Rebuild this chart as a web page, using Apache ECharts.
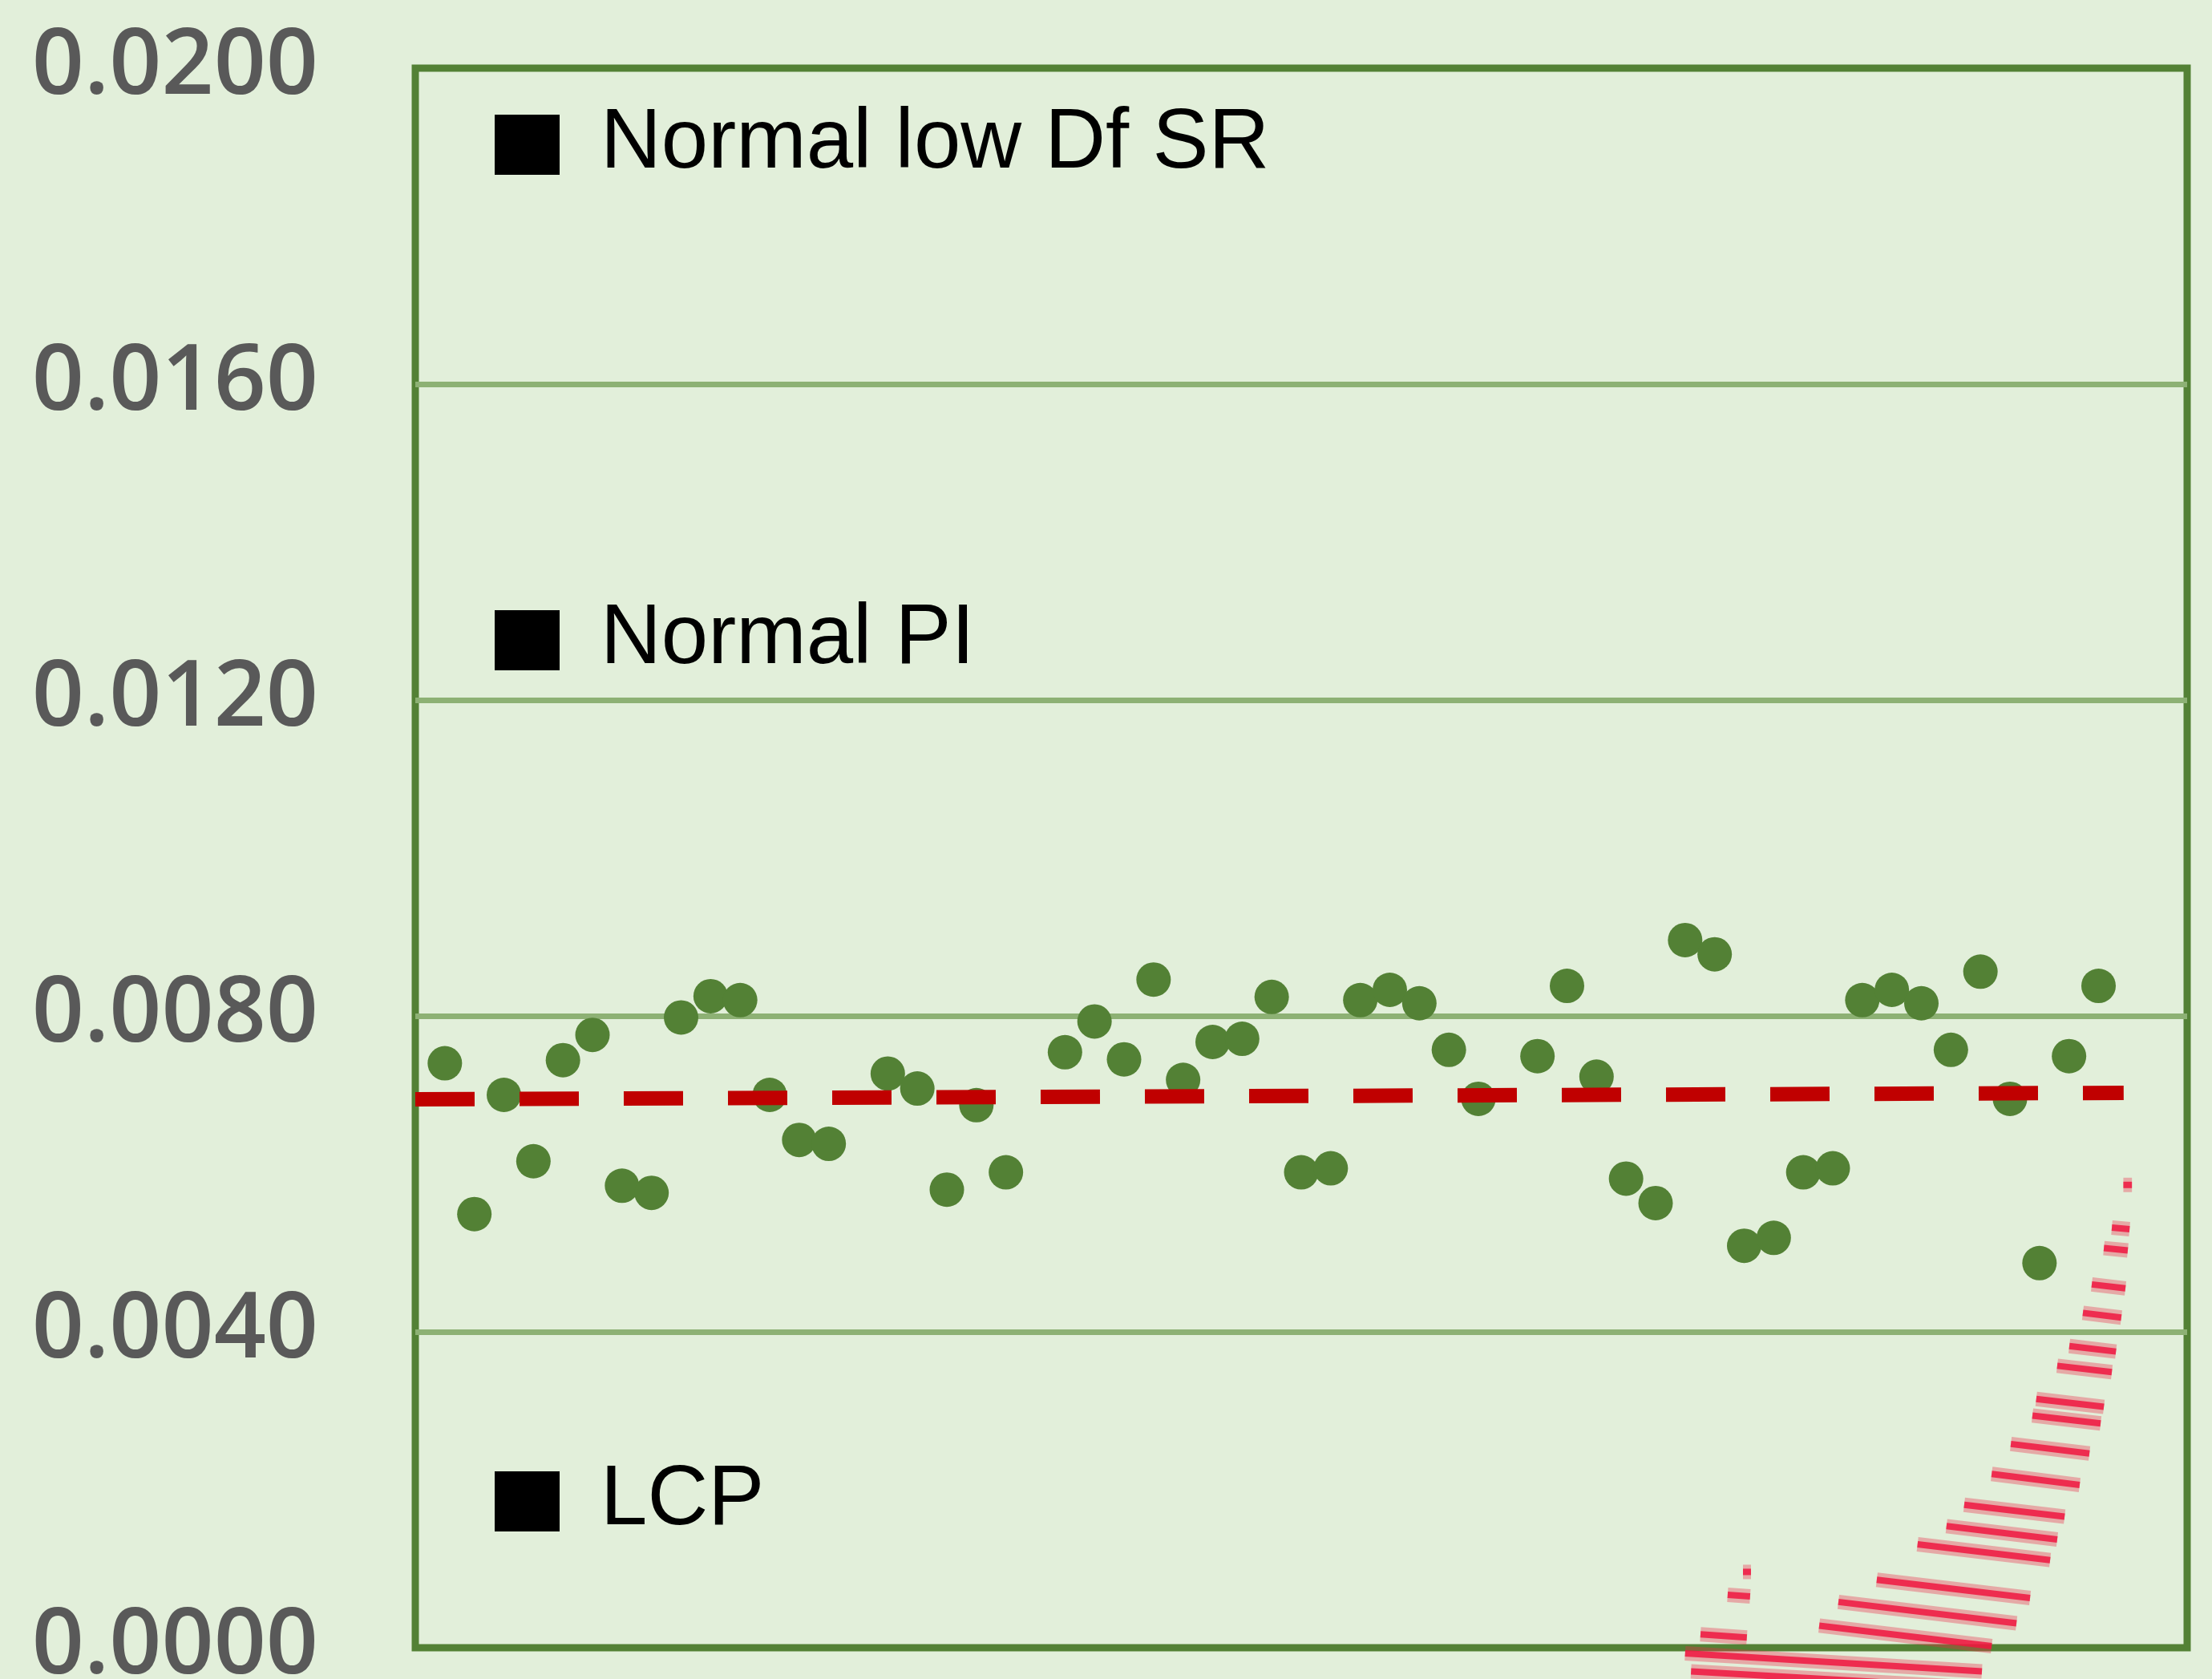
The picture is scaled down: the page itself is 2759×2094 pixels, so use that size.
<!DOCTYPE html>
<html>
<head>
<meta charset="utf-8">
<script src="https://cdn.jsdelivr.net/npm/echarts@6/dist/echarts.min.js"></script>
<style>
html,body{margin:0;padding:0;background:#e2efda;}
#chart{width:2759px;height:2094px;}
</style>
</head>
<body>
<div id="chart"></div>
<script>
// ---- data ----
const yTicks = [0, 0.004, 0.008, 0.012, 0.016, 0.02];
const sampleIndex = [1,2,3,4,5,6,7,8,9,10,11,12,13,14,15,16,17,18,19,20,21,22,23,24,25,26,27,28,29,30,31,32,33,34,35,36,37,38,39,40,41,42,43,44,45,46,47,48,49,50,51,52,53,54,55,56,57];
const dfValues = [0.00740,0.00549,0.00700,0.00616,0.00744,0.00776,0.00585,0.00576,0.00798,0.00825,
                  0.00820,0.00700,0.00643,0.00638,null,0.00727,0.00708,0.00580,0.00687,0.00602,
                  null,0.00754,0.00793,0.00745,0.00846,0.00719,0.00767,0.00771,0.00824,0.00602,
                  0.00607,0.00820,0.00833,0.00816,0.00757,0.00695,null,0.00749,0.00838,0.00723,
                  0.00594,0.00563,0.00896,0.00878,0.00509,0.00519,0.00602,0.00607,0.00820,0.00833,
                  0.00816,0.00757,0.00856,0.00695,0.00487,0.00749,0.00838];
const trendX = [0, 57.85];
const trendY = [0.006943, 0.007026];
const legendNames = ['Normal low Df SR', 'Normal PI', 'LCP'];
// red hatch strokes: [x1, y1, x2, y2]
const hatchStrokes = [
  [57.84,0.00586,58.13,0.00586],
  [57.45,0.00532,58.05,0.00530],
  [57.18,0.00506,57.99,0.00503],
  [56.77,0.00460,57.91,0.00455],
  [56.47,0.00424,57.77,0.00418],
  [56.01,0.00382,57.59,0.00375],
  [55.60,0.00357,57.45,0.00349],
  [54.89,0.00315,57.18,0.00305],
  [54.76,0.00294,57.07,0.00284],
  [54.03,0.00258,56.69,0.00246],
  [53.38,0.00220,56.36,0.00206],
  [52.45,0.00181,55.85,0.00166],
  [51.85,0.00154,55.60,0.00137],
  [50.87,0.00131,55.36,0.00111],
  [49.49,0.00086,54.68,0.00063],
  [48.19,0.00058,54.22,0.00031],
  [47.54,0.00028,53.38,0.00002],
  [43.00,-0.00007,53.05,-0.00030],
  [43.20,-0.00030,52.60,-0.00050],
  [44.96,0.00096,45.23,0.00096],
  [44.44,0.00067,45.20,0.00065],
  [43.52,0.00017,45.09,0.00013]
];

const scatterData = sampleIndex.map((x, i) => [x, dfValues[i]]).filter(d => d[1] !== null);
const trendData = trendX.map((x, i) => [x, trendY[i]]);

const chart = echarts.init(document.getElementById('chart'));
const legendTops = [128, 746, 1820];
const option = {
  backgroundColor: '#e2efda',
  animation: false,
  grid: {
    left: 518, top: 85, right: 31, bottom: 39,
    containLabel: false, outerBoundsMode: 'none',
    show: true, borderColor: '#538135', borderWidth: 9, backgroundColor: 'transparent'
  },
  legend: legendNames.map((n, i) => ({
    left: 617, top: legendTops[i], padding: 0, orient: 'vertical',
    itemWidth: 81, itemHeight: 75, selectedMode: false,
    itemStyle: {color: '#000', opacity: 1},
    data: [{name: n, icon: 'rect', itemStyle: {color: '#000', opacity: 1}}],
    textStyle: {fontSize: 105, fontFamily: 'Liberation Sans', color: '#000', padding: [0, 0, 0, 46]}
  })),
  xAxis: {
    type: 'value', min: 0, max: 60, show: false
  },
  yAxis: {
    type: 'value', min: yTicks[0], max: yTicks[yTicks.length - 1], interval: 0.004,
    axisLine: {show: false}, axisTick: {show: false},
    axisLabel: {
      margin: 121, fontSize: 114, fontFamily: 'Open Sans', fontWeight: 600, color: '#595959',
      formatter: v => v.toFixed(4)
    },
    splitLine: {showMinLine: false, showMaxLine: false, lineStyle: {color: '#8db174', width: 7}}
  },
  series: [
    {
      name: 'Df', type: 'scatter', data: scatterData, symbolSize: 43,
      itemStyle: {color: '#538135', opacity: 1}, z: 3
    },
    {
      name: 'trend', type: 'line', data: trendData, showSymbol: false, symbol: 'none',
      lineStyle: {color: '#c00000', width: 18, type: [74, 56], cap: 'butt'}, z: 4
    },
    {
      name: 'hatch', type: 'custom', clip: false, z: 5, data: hatchStrokes,
      renderItem: function (params, api) {
        const p1 = api.coord([api.value(0), api.value(1)]);
        const p2 = api.coord([api.value(2), api.value(3)]);
        return {
          type: 'group',
          children: [
            {type: 'line', shape: {x1: p1[0], y1: p1[1], x2: p2[0], y2: p2[1]},
             style: {stroke: 'rgba(236,40,70,0.35)', lineWidth: 18}},
            {type: 'line', shape: {x1: p1[0], y1: p1[1], x2: p2[0], y2: p2[1]},
             style: {stroke: 'rgba(240,22,63,0.85)', lineWidth: 8}}
          ]
        };
      }
    },
    ...legendNames.map(n => ({name: n, type: 'scatter', data: [], itemStyle: {color: '#000', opacity: 1}}))
  ]
};
chart.setOption(option);
</script>
</body>
</html>
